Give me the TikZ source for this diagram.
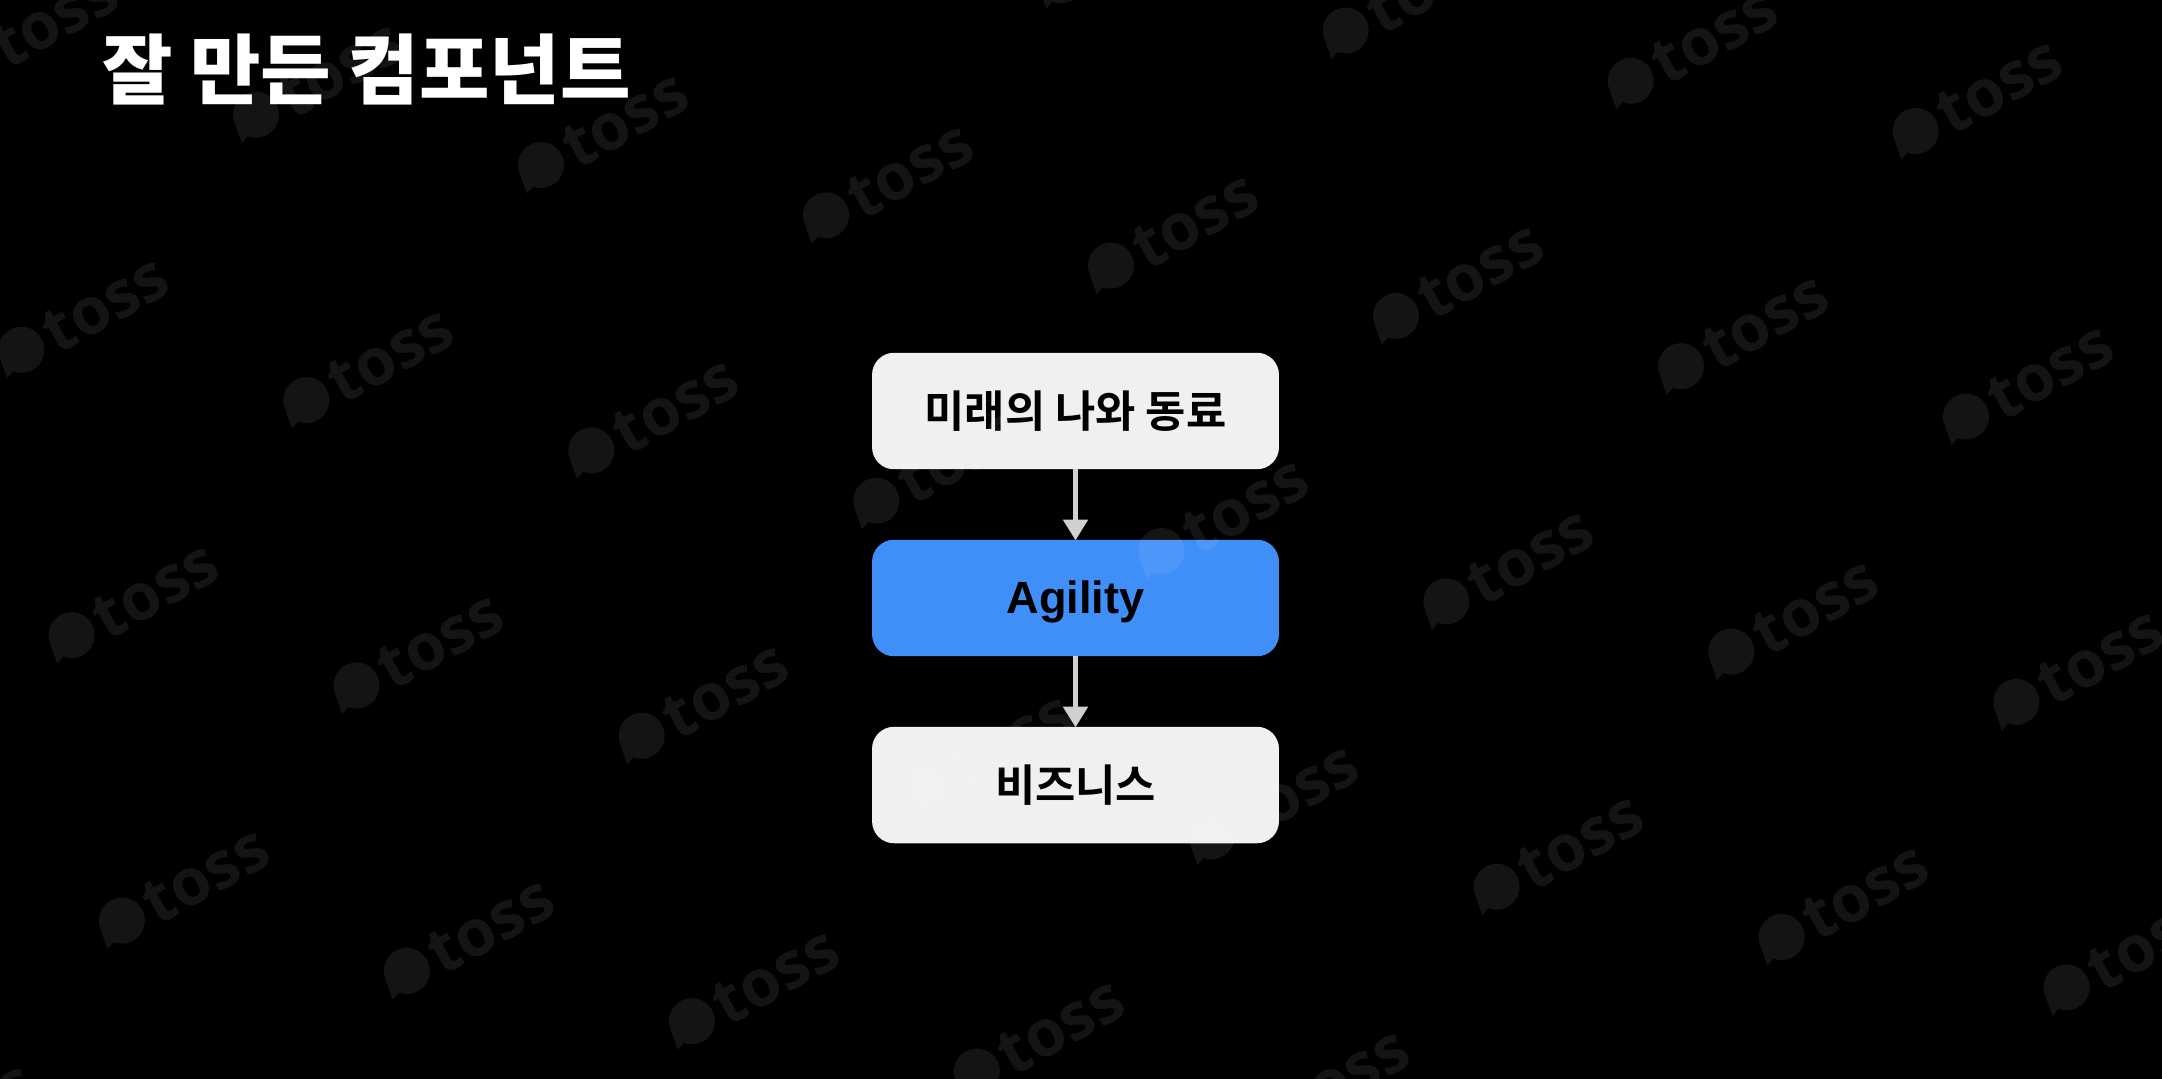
\documentclass[tikz,border=0pt]{standalone}
\usepackage{fontspec}
\usepackage{xcolor}
\usetikzlibrary{arrows.meta}
\newfontfamily\krfont{Noto Sans CJK KR}[BoldFont={* Bold}]
\newfontfamily\krheavy{Noto Sans CJK KR Black}
\setmainfont{Liberation Sans}
\newfontfamily\markfont{Open Sans}[BoldFont={* Bold}]
\definecolor{boxgray}{HTML}{F0F0F0}
\definecolor{boxblue}{HTML}{408FF8}
\definecolor{flowgray}{HTML}{D0D0D0}
\tikzset{
    stagebox/.style={fill=boxgray, text=black, rounded corners=0.44cm, minimum width=8.14cm, minimum height=2.33cm, outer sep=0pt, inner sep=0pt, font=\krfont\fontsize{24.9}{30}\selectfont\bfseries},
    flowline/.style={-{Triangle[width=13.7pt,length=11.7pt]}, line width=2.56pt, draw=flowgray, shorten >=-0.3pt},
    markfill/.style={fill=white, fill opacity=0.08},
    marktext/.style={text=white, text opacity=0.08, rotate=29, inner sep=0pt, font=\markfont\fontsize{37}{40}\selectfont\bfseries}
}

\begin{document}
\begin{tikzpicture}[x=0.02cm, y=-0.02cm]
    % Page
    \useasboundingbox (0,0) rectangle (2162,1078);
    \clip (-5,-5) rectangle (2167,1083);
    \fill[black] (-5,-5) rectangle (2167,1083);

    % Title
    \node[anchor=west, inner sep=0pt, text=white, font=\krheavy\fontsize{43.6}{50}\selectfont] (title) at (102,69) {잘 만든 컴포넌트};

    % Boxes
    \node[stagebox] (future) at (1075.5,411) {미래의 나와 동료};
    \node[stagebox, fill=boxblue, text height=22pt, text depth=4pt, font=\fontsize{25.7}{30}\selectfont\bfseries] (agility) at (1075.5,598) {Agility};
    \node[stagebox] (business) at (1075.5,785) {비즈니스};

    % Arrows
    \draw[flowline] (future) -- (agility);
    \draw[flowline] (agility) -- (business);

    % Watermark
    \foreach \i in {-3,...,8} {
        \foreach \j in {-1,...,4} {
            \pgfmathsetmacro{\mx}{541+285*\i+50.3*\j}
            \pgfmathsetmacro{\my}{165+50.3*\i+285.4*\j}
            \fill[markfill] (\mx,\my) ++(156:23) arc (156:471:23) -- ++(-6,7) -- cycle;
            \node[marktext] (mark\i\j) at (\mx+84,\my-45) {toss};
        }
    }
\end{tikzpicture}
\end{document}
